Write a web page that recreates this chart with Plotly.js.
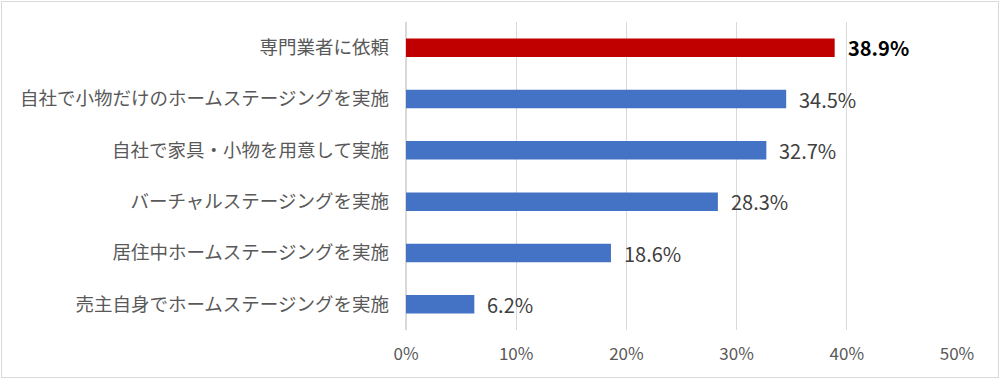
<!DOCTYPE html>
<html><head><meta charset="utf-8">
<script src="https://cdn.plot.ly/plotly-3.0.1.min.js"></script>
<style>
html,body{margin:0;padding:0;background:#fff;}
#wrap{position:relative;width:1000px;height:379px;}
#chart{width:1000px;height:379px;}
#frame{position:absolute;left:1px;top:1px;width:996px;height:375px;border:1px solid #d9d9d9;pointer-events:none;}
</style></head>
<body>
<div id="wrap"><div id="chart"></div><div id="frame"></div></div>
<script>
const categories = [
  "専門業者に依頼",
  "自社で小物だけのホームステージングを実施",
  "自社で家具・小物を用意して実施",
  "バーチャルステージングを実施",
  "居住中ホームステージングを実施",
  "売主自身でホームステージングを実施"
];
const values = [38.9, 34.5, 32.7, 28.3, 18.6, 6.2];
const barColors = ["#C00000", "#4472C4", "#4472C4", "#4472C4", "#4472C4", "#4472C4"];
const tickVals = [0, 10, 20, 30, 40, 50];
const tickText = ["0%", "10%", "20%", "30%", "40%", "50%"];

const FONT = '"Noto Sans CJK JP", "Noto Sans", sans-serif';

const trace = {
  type: 'bar',
  orientation: 'h',
  y: categories,
  x: values,
  marker: {color: barColors},
  hoverinfo: 'none'
};

const annotations = values.map((v, i) => ({
  x: v, y: categories[i], xref: 'x', yref: 'y',
  text: i === 0 ? '<b>' + v.toFixed(1) + '%</b>' : v.toFixed(1) + '%',
  showarrow: false, xanchor: 'left', yanchor: 'middle', xshift: 11,
  font: {family: FONT, size: 20, color: i === 0 ? '#000000' : '#404040'}
}));

const layout = {
  width: 1000, height: 379,
  margin: {l: 406, r: 42.5, t: 22, b: 49, pad: 0},
  paper_bgcolor: '#ffffff', plot_bgcolor: '#ffffff',
  showlegend: false,
  bargap: 0.64,
  font: {family: FONT, color: '#595959'},
  xaxis: {
    range: [0, 50], tickvals: tickVals, ticktext: tickText,
    showgrid: true, gridcolor: '#d9d9d9', gridwidth: 1.3,
    zeroline: true, zerolinecolor: '#d9d9d9', zerolinewidth: 1.3,
    showline: false, ticks: '', ticklabelstandoff: 12,
    tickfont: {family: FONT, size: 17, color: '#595959'},
    fixedrange: true
  },
  yaxis: {
    autorange: 'reversed', showgrid: false, zeroline: false, showline: false,
    ticks: '', ticklabelstandoff: 16,
    tickfont: {family: FONT, size: 18.5, color: '#595959'},
    fixedrange: true
  },
  annotations: annotations
};

Plotly.newPlot('chart', [trace], layout, {staticPlot: true, displayModeBar: false});
</script>
</body></html>
